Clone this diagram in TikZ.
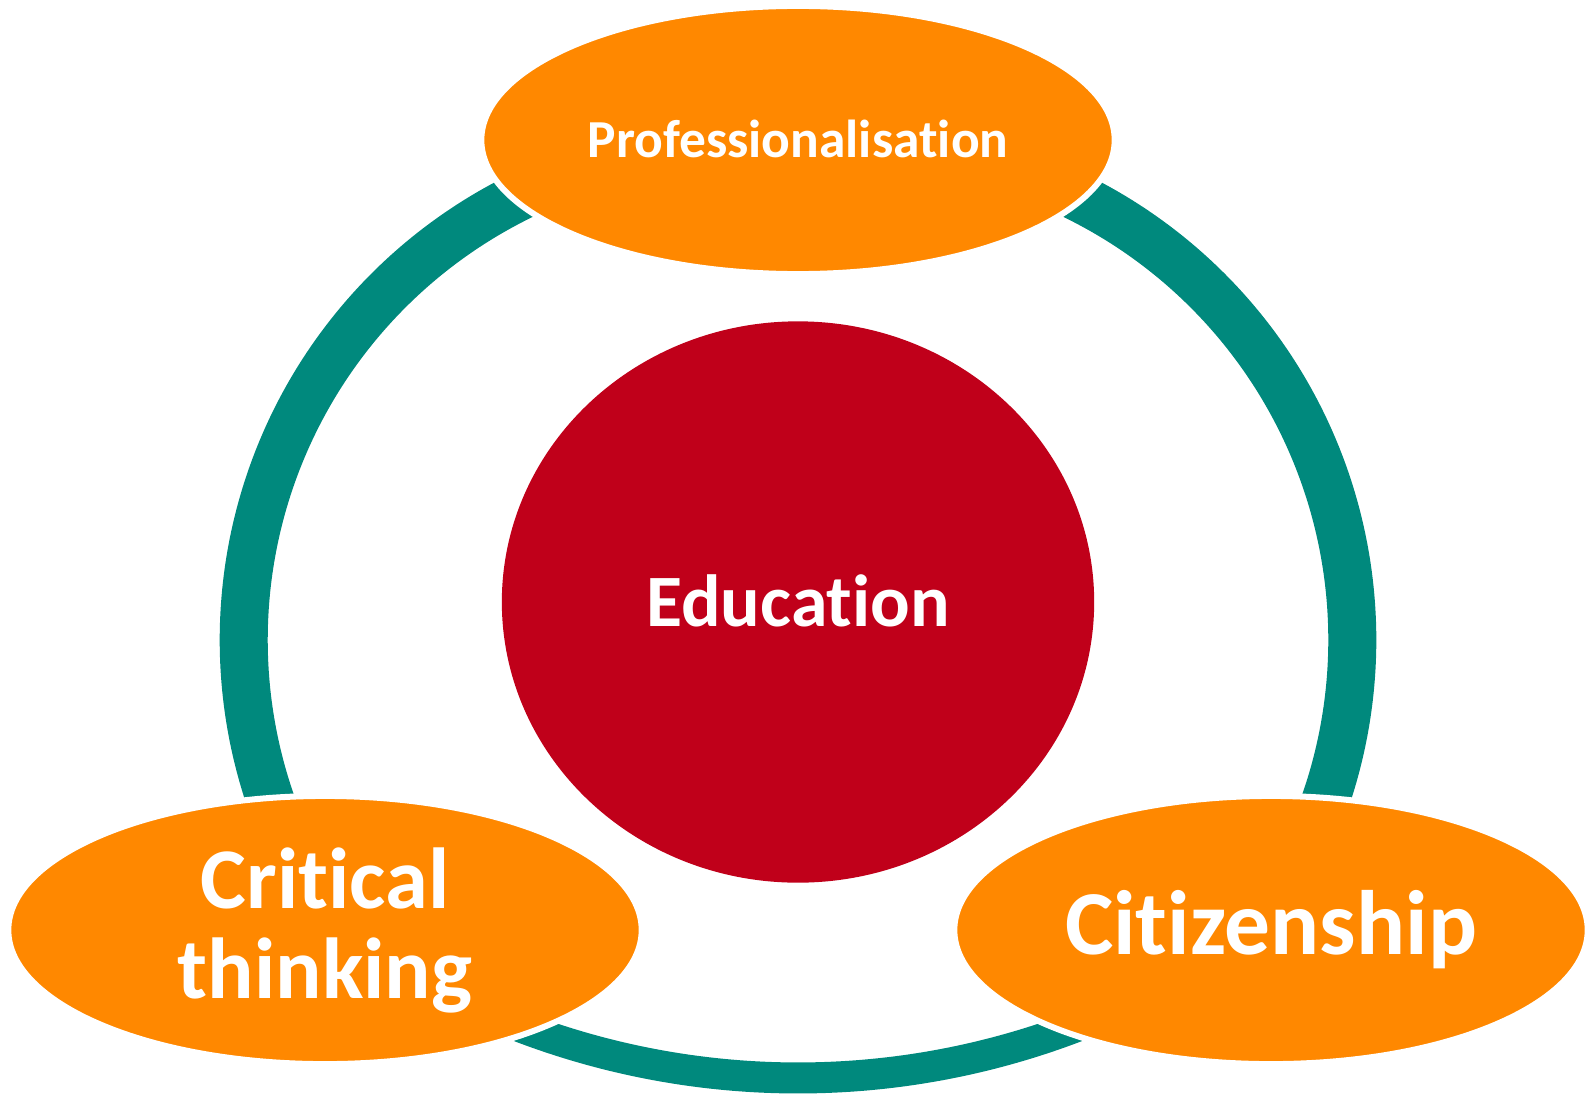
\documentclass[tikz,border=0pt]{standalone}
\usepackage{fontspec}
\setmainfont{Carlito}[Ligatures=NoCommon]
\usepackage{tikz}
\usetikzlibrary{shapes}
\definecolor{ringteal}{RGB}{0,137,125}
\definecolor{topicorange}{RGB}{255,136,0}
\definecolor{edured}{RGB}{192,0,26}

\begin{document}
\begin{tikzpicture}[x=0.01cm,y=0.01cm]
\tikzset{font={\bfseries}}
\tikzset{ring/.style={color=ringteal,line width=0.48cm}}
\tikzset{topic/.style={ellipse,fill=topicorange,draw=white,line width=0.06cm,minimum width=6.33cm,minimum height=2.68cm,text=white,align=center,inner sep=0pt}}
\useasboundingbox (0,0) rectangle (1586,1093);

%Ring
\coordinate (lc) at (738,453);
\coordinate (rc) at (858,453);
\coordinate (bc) at (798,795);
\draw[ring] (lc) ++(100:4.94cm) arc[start angle=100,end angle=205,radius=4.94cm];
\draw[ring] (rc) ++(80:4.94cm) arc[start angle=80,end angle=-25,radius=4.94cm];
\draw[ring,line width=0.31cm] (bc) ++(245:7.795cm) arc[start angle=245,end angle=295,radius=7.795cm];

%Centre
\node[ellipse,fill=edured,minimum width=5.92cm,minimum height=5.61cm,text=white,inner sep=0pt,font={\bfseries\fontsize{21}{24}\selectfont}] (edu) at (798,491) {\raisebox{0.03cm}{Education}};

%Topics
\node[topic,font={\bfseries\fontsize{15.2}{18}\selectfont}] (prof) at (798,953) {\raisebox{0.02cm}{Professionalisation}};
\node[topic,font={\bfseries\fontsize{24.6}{25.6}\selectfont}] (crit) at (325,163) {Critical\\thinking};
\node[topic,font={\bfseries\fontsize{26}{26}\selectfont}] (citi) at (1271,163) {Citizenship};

\end{tikzpicture}
\end{document}
